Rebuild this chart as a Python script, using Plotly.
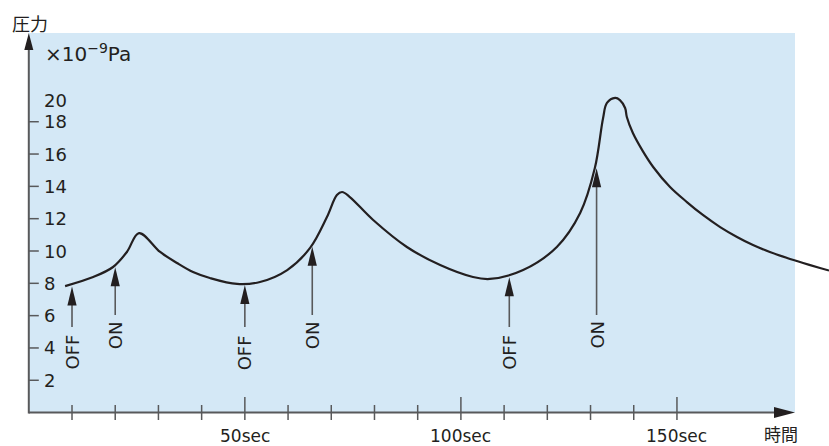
import plotly.graph_objects as go

# ---------------- data ----------------
time_s = [8.4, 14.9, 19.5, 22.7, 25.5, 30.4, 34.3, 38.0, 41.9, 48.2, 53.5,
          59.8, 65.1, 69.0, 71.3, 72.5, 74.3, 79.7, 87.5, 95.2, 102.8, 106.7, 114.4,
          122.2, 127.6, 131.0, 132.9, 133.8, 135.7, 136.8, 138.0, 138.4, 139.8, 142.1,
          144.5, 148.4, 152.3, 156.0, 160.0, 163.9, 167.6, 171.5, 175.5, 179.2, 183.1, 185.2]
pressure = [7.83, 8.39, 9.01, 9.94, 11.11, 9.94, 9.26, 8.70, 8.33, 7.96, 8.08,
            8.82, 10.19, 12.10, 13.46, 13.65, 13.34, 11.92, 10.25, 9.13, 8.39, 8.27, 8.82,
            10.25, 12.35, 15.13, 18.22, 19.16, 19.47, 19.34, 18.85, 18.29, 17.30, 16.18,
            15.20, 13.96, 13.03, 12.23, 11.48, 10.87, 10.37, 9.94, 9.57, 9.26, 8.95, 8.79]

event_time = [10, 20, 50, 65.6, 111.2, 131.4]
event_tip = [7.8, 9.0, 7.9, 10.27, 8.37, 15.12]
event_label = ["OFF", "ON", "OFF", "ON", "OFF", "ON"]

y_ticks = [2, 4, 6, 8, 10, 12, 14, 16, 18]
y_top_label = "20"
y_top_label_value = 19.34
x_ticks = [10, 20, 30, 40, 50, 60, 70, 80, 90, 100, 110, 120, 130, 140, 150]
x_major = [50, 100, 150]
x_major_labels = ["50sec", "100sec", "150sec"]

y_title = "圧力"
x_title = "時間"
unit_label = "×10<sup>−9</sup>Pa"

# ---------------- geometry / style ----------------
W, H = 829, 446
ORIGIN_X, ORIGIN_Y = 28.8, 412.6     # pixel position of (0, 0)
PX_SEC, PX_UNIT = 4.321, 16.16
x_range = [-ORIGIN_X / PX_SEC, (W - ORIGIN_X) / PX_SEC]
y_range = [(ORIGIN_Y - H) / PX_UNIT, ORIGIN_Y / PX_UNIT]
X_END = (795 - ORIGIN_X) / PX_SEC
Y_END = (ORIGIN_Y - 33) / PX_UNIT

BG = "#d4e8f6"
INK = "#231f20"
AXIS = "#58595b"
FONT = "DejaVu Sans"
CJK = "Noto Sans CJK JP"

fig = go.Figure()

shapes = []
# background panel
shapes.append(dict(type="rect", xref="x", yref="y", x0=0, x1=X_END, y0=0, y1=Y_END,
                   fillcolor=BG, line=dict(width=0), layer="below"))
# axes lines
shapes.append(dict(type="line", xref="x", yref="y", x0=0, x1=X_END - 10 / PX_SEC, y0=0, y1=0,
                   line=dict(color=AXIS, width=2)))
shapes.append(dict(type="line", xref="x", yref="y", x0=0, x1=0, y0=-0.05, y1=Y_END - 8 / PX_UNIT,
                   line=dict(color=AXIS, width=2)))
# axis arrowheads (pixel-sized, anchored at data points)
shapes.append(dict(type="path", xref="x", yref="y", xsizemode="pixel", ysizemode="pixel",
                   xanchor=X_END, yanchor=0, path="M 0 0 L -21 5.5 L -21 -5.5 Z",
                   fillcolor=INK, line=dict(width=0)))
shapes.append(dict(type="path", xref="x", yref="y", xsizemode="pixel", ysizemode="pixel",
                   xanchor=0, yanchor=Y_END, path="M 0 0 L -4.5 -17 L 4.5 -17 Z",
                   fillcolor=INK, line=dict(width=0)))
# y ticks
for v in y_ticks:
    shapes.append(dict(type="line", xref="x", yref="y", xsizemode="pixel",
                       xanchor=0, x0=0, x1=10, y0=v, y1=v,
                       line=dict(color=AXIS, width=1.5)))
# x ticks (crossing the axis)
for t in x_ticks:
    top = 15.6 if t in x_major else 7.6
    shapes.append(dict(type="line", xref="x", yref="y", ysizemode="pixel",
                       yanchor=0, x0=t, x1=t, y0=-7.4, y1=top,
                       line=dict(color=AXIS, width=1.5)))

# ON/OFF event arrows
annotations = []
for t, tip, lab in zip(event_time, event_tip, event_label):
    bottom_px = 327 if lab == "OFF" else 315
    text_px = 352.5 if lab == "OFF" else 335
    bottom_v = (ORIGIN_Y - bottom_px) / PX_UNIT
    shapes.append(dict(type="line", xref="x", yref="y", x0=t, x1=t,
                       y0=bottom_v, y1=tip - 15 / PX_UNIT,
                       line=dict(color=AXIS, width=1.6)))
    shapes.append(dict(type="path", xref="x", yref="y", xsizemode="pixel", ysizemode="pixel",
                       xanchor=t, yanchor=tip, path="M 0 0 L -4.6 -19 L 4.6 -19 Z",
                       fillcolor=INK, line=dict(width=0)))
    annotations.append(dict(x=t, y=(ORIGIN_Y - text_px) / PX_UNIT, xref="x", yref="y",
                            text=lab, showarrow=False, textangle=-90,
                            xanchor="center", yanchor="middle",
                            font=dict(family=FONT, size=18, color=INK)))

# curve
fig.add_trace(go.Scatter(x=time_s, y=pressure, mode="lines",
                         line=dict(color=INK, width=2.2, shape="spline", smoothing=1.0),
                         hoverinfo="skip", showlegend=False))

# y tick labels
for v in y_ticks:
    annotations.append(dict(x=0, y=v, xref="x", yref="y", text=str(v), showarrow=False,
                            xanchor="left", yanchor="middle", xshift=13,
                            font=dict(family=FONT, size=18, color=INK)))
annotations.append(dict(x=0, y=y_top_label_value, xref="x", yref="y", text=y_top_label,
                        showarrow=False, xanchor="left", yanchor="middle", xshift=13,
                        font=dict(family=FONT, size=18, color=INK)))
# x tick labels
for t, lab in zip(x_major, x_major_labels):
    annotations.append(dict(x=t, y=0, xref="x", yref="y", text=lab, showarrow=False,
                            xanchor="center", yanchor="middle", yshift=-23.5,
                            font=dict(family=FONT, size=17, color=INK)))
# axis titles
annotations.append(dict(x=X_END, y=0, xref="x", yref="y", text=x_title, showarrow=False,
                        xanchor="center", yanchor="middle", xshift=-14, yshift=-21,
                        font=dict(family=CJK, size=17, color=INK)))
annotations.append(dict(x=0, y=Y_END, xref="x", yref="y", text=y_title, showarrow=False,
                        xanchor="center", yanchor="middle", xshift=1, yshift=10.5,
                        font=dict(family=CJK, size=18, color=INK)))
annotations.append(dict(x=0, y=Y_END, xref="x", yref="y", text=unit_label, showarrow=False,
                        xanchor="left", yanchor="middle", xshift=14, yshift=-20,
                        font=dict(family=FONT, size=20, color=INK)))

fig.update_layout(
    width=W, height=H,
    margin=dict(l=0, r=0, t=0, b=0),
    paper_bgcolor="white", plot_bgcolor="white",
    xaxis=dict(range=x_range, visible=False, fixedrange=True),
    yaxis=dict(range=y_range, visible=False, fixedrange=True),
    shapes=shapes, annotations=annotations,
    showlegend=False,
)

fig.write_html("out.html")
